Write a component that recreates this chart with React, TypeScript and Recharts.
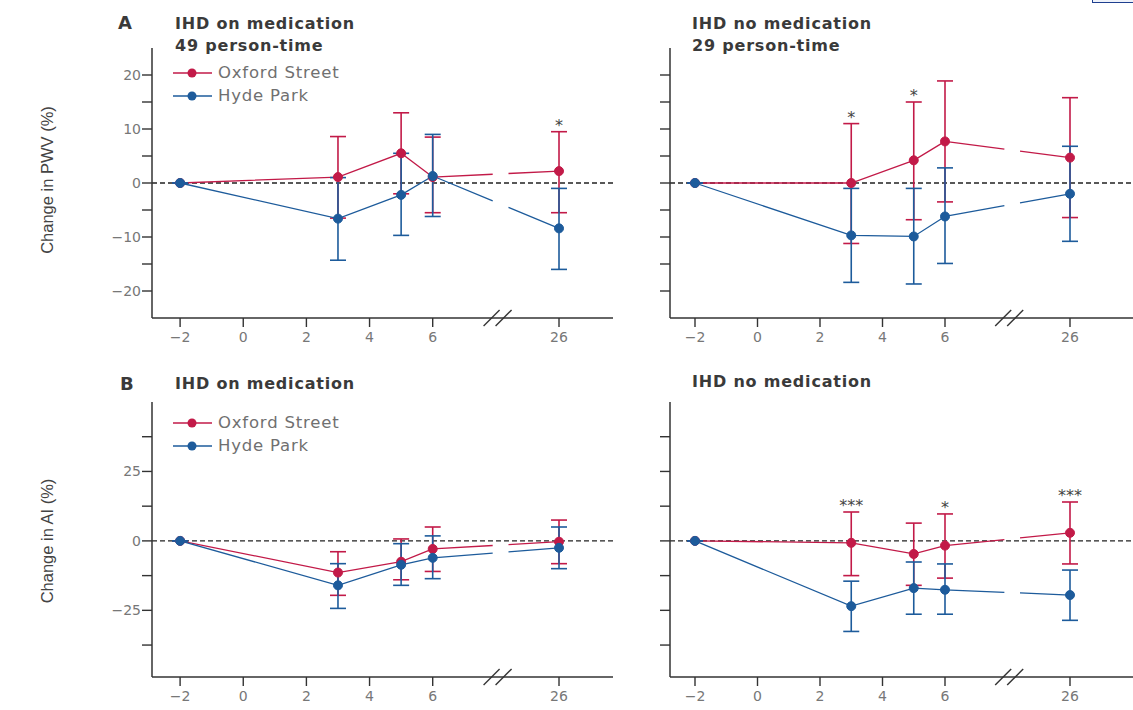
import React from 'react';
import { LineChart, Line, XAxis, YAxis, ErrorBar, ReferenceLine, ReferenceDot } from 'recharts';

// Hours relative to exposure (the 26 h point sits after an axis break)
const hours = [-2, 3, 5, 6, 26];
const xTicks = [-2, 0, 2, 4, 6, 26];

// A: change in PWV (%), IHD on medication
const pwvMedOxford = [0, 1.1, 5.5, 1.1, 2.2];
const pwvMedOxfordLo = [0, -6.5, -2, -5.5, -5.5];
const pwvMedOxfordHi = [0, 8.6, 13, 8.5, 9.5];
const pwvMedHyde = [0, -6.6, -2.2, 1.3, -8.4];
const pwvMedHydeLo = [0, -14.3, -9.7, -6.2, -16];
const pwvMedHydeHi = [0, 1, 5.5, 9, -1];
const pwvMedSig = ['', '', '', '', '*'];

// A: change in PWV (%), IHD no medication
const pwvNoOxford = [0, 0, 4.2, 7.7, 4.7];
const pwvNoOxfordLo = [0, -11.2, -6.8, -3.5, -6.4];
const pwvNoOxfordHi = [0, 11, 15, 18.9, 15.8];
const pwvNoHyde = [0, -9.7, -9.9, -6.2, -2];
const pwvNoHydeLo = [0, -18.4, -18.7, -14.9, -10.8];
const pwvNoHydeHi = [0, -1, -1, 2.8, 6.8];
const pwvNoSig = ['', '*', '*', '', ''];

// B: change in AI (%), IHD on medication
const aiMedOxford = [0, -11.4, -7.5, -2.9, -0.3];
const aiMedOxfordLo = [0, -19.6, -14, -11, -8.2];
const aiMedOxfordHi = [0, -3.9, 0.7, 5, 7.5];
const aiMedHyde = [0, -16, -8.6, -6.1, -2.5];
const aiMedHydeLo = [0, -24.3, -16, -13.6, -10];
const aiMedHydeHi = [0, -8.2, -1, 1.8, 5];
const aiMedSig = ['', '', '', '', ''];

// B: change in AI (%), IHD no medication
const aiNoOxford = [0, -0.7, -4.7, -1.7, 2.9];
const aiNoOxfordLo = [0, -12.5, -16, -13.4, -8.3];
const aiNoOxfordHi = [0, 10.4, 6.4, 9.7, 14];
const aiNoHyde = [0, -23.5, -17, -17.6, -19.5];
const aiNoHydeLo = [0, -32.6, -26.4, -26.4, -28.6];
const aiNoHydeHi = [0, -14.5, -7.6, -8.3, -10.5];
const aiNoSig = ['', '***', '', '*', '***'];

const pwvTicks = [-20, -15, -10, -5, 0, 5, 10, 15, 20];
const pwvLabels = [-20, -10, 0, 10, 20];
const aiTicks = [-37.5, -25, -12.5, 0, 12.5, 25, 37.5];
const aiLabels = [-25, 0, 25];

const RED = '#c21a48';
const BLUE = '#1d5b9b';
const FONT = '"DejaVu Sans", sans-serif';

// broken axis: 26 h is drawn where 10 would be
const toPos = (h: number) => (h === 26 ? 10 : h);
const minus = (v: number) => (v < 0 ? '\u2212' + Math.abs(v) : String(v));

type Series = { mean: number[]; lo: number[]; hi: number[] };

const buildRows = (os: Series, hp: Series, sig: string[]) =>
  hours.map((h, i) => {
    const tail = h >= 6;
    const main = h <= 6;
    return {
      pos: toPos(h),
      os: os.mean[i],
      osMain: main ? os.mean[i] : null,
      osTail: tail ? os.mean[i] : null,
      osErr: [os.mean[i] - os.lo[i], os.hi[i] - os.mean[i]],
      osHi: os.hi[i],
      hp: hp.mean[i],
      hpMain: main ? hp.mean[i] : null,
      hpTail: tail ? hp.mean[i] : null,
      hpErr: [hp.mean[i] - hp.lo[i], hp.hi[i] - hp.mean[i]],
      sig: sig[i],
    };
  });

const BreakMark = ({ cx, cy }: { cx: number; cy: number }) => (
  <g>
    <line x1={cx - 17} y1={cy + 8} x2={cx - 1} y2={cy - 8} stroke="#333" strokeWidth={1.4} />
    <line x1={cx - 5} y1={cy + 8} x2={cx + 11} y2={cy - 8} stroke="#333" strokeWidth={1.4} />
  </g>
);

type PanelProps = {
  left: number;
  top: number;
  width: number;
  height: number;
  marginTop: number;
  xDomain: [number, number];
  yDomain: [number, number];
  yTicks: number[];
  yLabels: number[] | null;
  os: Series;
  hp: Series;
  sig: string[];
};

const Panel: React.FC<PanelProps> = ({ left, top, width, height, marginTop, xDomain, yDomain, yTicks, yLabels, os, hp, sig }) => {
  const rows = buildRows(os, hp, sig);
  const plotW = width - 60;
  const plotH = height - marginTop - 30;
  const pxX = plotW / (xDomain[1] - xDomain[0]);
  const pxY = plotH / (yDomain[1] - yDomain[0]);
  // gap in the 6 -> 26 segment where the axis is broken
  const tailDash = (a: number, b: number) => {
    const len = Math.hypot(4 * pxX, (b - a) * pxY);
    return `${len * 0.475} ${len * 0.125} ${len}`;
  };
  return (
    <div style={{ position: 'absolute', left, top }}>
      <LineChart width={width} height={height} data={rows} margin={{ top: marginTop, right: 0, bottom: 0, left: 0 }}>
        <XAxis
          type="number"
          dataKey="pos"
          domain={xDomain}
          ticks={xTicks.map(toPos)}
          tickFormatter={(v: number) => (v === 10 ? '26' : minus(v))}
          allowDataOverflow
          height={30}
          tickSize={9}
          tickMargin={5}
          tick={{ fill: '#777', fontSize: 14, fontFamily: FONT }}
          tickLine={{ stroke: '#333', strokeWidth: 1.4 }}
          axisLine={{ stroke: '#333', strokeWidth: 1.5 }}
        />
        <YAxis
          type="number"
          domain={yDomain}
          ticks={yTicks}
          allowDataOverflow
          width={60}
          tickSize={10}
          tickMargin={1}
          tickFormatter={(v: number) => (yLabels && yLabels.includes(v) ? minus(v) : '')}
          tick={{ fill: '#777', fontSize: 14, fontFamily: FONT }}
          tickLine={{ stroke: '#333', strokeWidth: 1.4 }}
          axisLine={{ stroke: '#333', strokeWidth: 1.5 }}
        />
        <ReferenceLine y={0} stroke="#222" strokeWidth={1.4} strokeDasharray="5 3" />
        <ReferenceDot
          x={8.15}
          y={yDomain[0]}
          r={0}
          ifOverflow="visible"
          shape={(p: any) => <BreakMark cx={p.cx} cy={p.cy} />}
        />
        <Line dataKey="osMain" stroke={RED} strokeWidth={1.3} dot={false} isAnimationActive={false} />
        <Line dataKey="osTail" stroke={RED} strokeWidth={1.3} dot={false} strokeDasharray={tailDash(os.mean[3], os.mean[4])} isAnimationActive={false} />
        <Line dataKey="os" stroke="none" dot={{ r: 4.5, fill: RED, stroke: RED }} isAnimationActive={false}>
          <ErrorBar dataKey="osErr" width={8} stroke={RED} strokeWidth={1.6} />
        </Line>
        <Line dataKey="hpMain" stroke={BLUE} strokeWidth={1.3} dot={false} isAnimationActive={false} />
        <Line dataKey="hpTail" stroke={BLUE} strokeWidth={1.3} dot={false} strokeDasharray={tailDash(hp.mean[3], hp.mean[4])} isAnimationActive={false} />
        <Line dataKey="hp" stroke="none" dot={{ r: 4.5, fill: BLUE, stroke: BLUE }} isAnimationActive={false}>
          <ErrorBar dataKey="hpErr" width={8} stroke={BLUE} strokeWidth={1.6} />
        </Line>
        {rows.filter((r) => r.sig).map((r) => (
          <ReferenceDot
            key={r.pos}
            x={r.pos}
            y={r.osHi}
            r={0}
            stroke="none"
            label={{ value: r.sig, position: 'top', offset: 1, fill: '#444', fontSize: 16, fontFamily: FONT }}
          />
        ))}
      </LineChart>
    </div>
  );
};

const Legend: React.FC<{ top: number }> = ({ top }) => (
  <div style={{ position: 'absolute', left: 170, top }}>
    {[
      { name: 'Oxford Street', color: RED },
      { name: 'Hyde Park', color: BLUE },
    ].map((s) => (
      <div key={s.name} style={{ display: 'flex', alignItems: 'center', height: 23 }}>
        <svg width={46} height={12}>
          <line x1={3} y1={6} x2={42} y2={6} stroke={s.color} strokeWidth={1.4} />
          <circle cx={22} cy={6} r={4.5} fill={s.color} />
        </svg>
        <span style={{ fontFamily: FONT, fontSize: 16.5, color: '#707070', marginLeft: 2, letterSpacing: 0.8 }}>{s.name}</span>
      </div>
    ))}
  </div>
);

const Title: React.FC<{ left: number; top: number; text: string; size?: number }> = ({ left, top, text, size = 16 }) => (
  <div style={{ position: 'absolute', left, top, fontFamily: FONT, fontWeight: 700, fontSize: size, color: '#3a3a3a', whiteSpace: 'nowrap', letterSpacing: 0.8 }}>
    {text}
  </div>
);

const YLabel: React.FC<{ cy: number; text: string }> = ({ cy, text }) => (
  <div
    style={{
      position: 'absolute',
      left: 47,
      top: cy,
      transform: 'translate(-50%, -50%) rotate(-90deg)',
      fontFamily: '"Liberation Sans Narrow", sans-serif',
      fontSize: 16.5,
      color: '#444',
      whiteSpace: 'nowrap',
    }}
  >
    {text}
  </div>
);

const App: React.FC = () => {
  const leftX: [number, number] = [-2.89, 11.71];
  const rightX: [number, number] = [-2.8, 12.4];
  return (
    <div style={{ position: 'absolute', left: 0, top: 0, width: 1133, height: 710, overflow: 'hidden', background: '#fff' }}>
      <Panel left={92} top={20} width={521} height={328} marginTop={28} xDomain={leftX} yDomain={[-25, 25]}
        yTicks={pwvTicks} yLabels={pwvLabels} sig={pwvMedSig}
        os={{ mean: pwvMedOxford, lo: pwvMedOxfordLo, hi: pwvMedOxfordHi }}
        hp={{ mean: pwvMedHyde, lo: pwvMedHydeLo, hi: pwvMedHydeHi }} />
      <Panel left={610} top={20} width={535} height={328} marginTop={28} xDomain={rightX} yDomain={[-25, 25]}
        yTicks={pwvTicks} yLabels={null} sig={pwvNoSig}
        os={{ mean: pwvNoOxford, lo: pwvNoOxfordLo, hi: pwvNoOxfordHi }}
        hp={{ mean: pwvNoHyde, lo: pwvNoHydeLo, hi: pwvNoHydeHi }} />
      <Panel left={92} top={380} width={521} height={327} marginTop={22} xDomain={leftX} yDomain={[-49, 50]}
        yTicks={aiTicks} yLabels={aiLabels} sig={aiMedSig}
        os={{ mean: aiMedOxford, lo: aiMedOxfordLo, hi: aiMedOxfordHi }}
        hp={{ mean: aiMedHyde, lo: aiMedHydeLo, hi: aiMedHydeHi }} />
      <Panel left={610} top={380} width={535} height={327} marginTop={22} xDomain={rightX} yDomain={[-49, 50]}
        yTicks={aiTicks} yLabels={null} sig={aiNoSig}
        os={{ mean: aiNoOxford, lo: aiNoOxfordLo, hi: aiNoOxfordHi }}
        hp={{ mean: aiNoHyde, lo: aiNoHydeLo, hi: aiNoHydeHi }} />

      <Title left={118} top={12} text="A" size={18} />
      <Title left={175} top={14} text="IHD on medication" />
      <Title left={175} top={36} text="49 person-time" />
      <Title left={692} top={14} text="IHD no medication" />
      <Title left={692} top={36} text="29 person-time" />
      <Title left={120} top={373} text="B" size={18} />
      <Title left={175} top={374} text="IHD on medication" />
      <Title left={692} top={372} text="IHD no medication" />

      <Legend top={61} />
      <Legend top={411} />

      <YLabel cy={180} text="Change in PWV (%)" />
      <YLabel cy={541} text="Change in AI (%)" />

      <div style={{ position: 'absolute', left: 1092, top: -20, width: 50, height: 21, border: '1.5px solid #1f3f8f', background: '#eef2fa' }} />
    </div>
  );
};

export default App;
